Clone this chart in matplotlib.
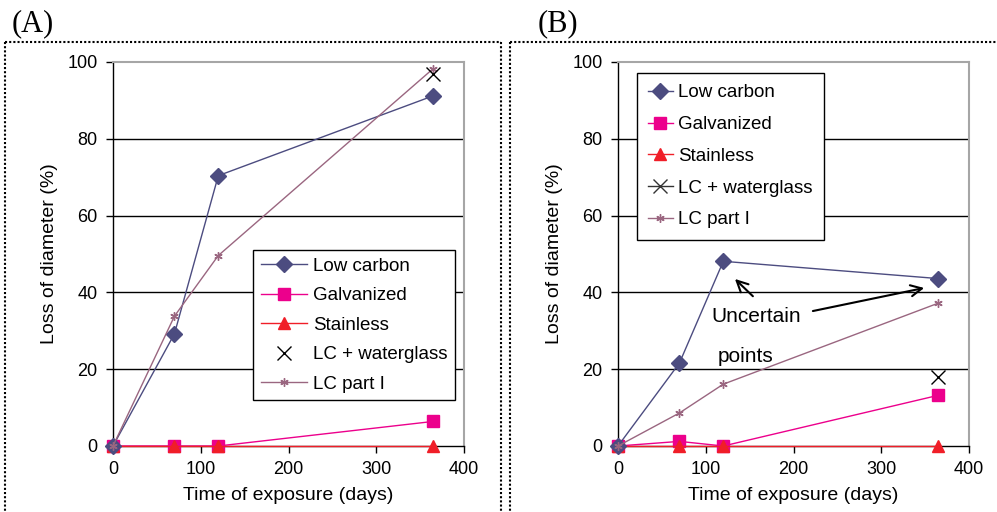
import matplotlib
matplotlib.use("Agg")
import matplotlib.pyplot as plt
from matplotlib.lines import Line2D

# ── Data ─────────────────────────────────────────────────────
DAYS = [0, 70, 120, 365]

A_LOW_CARBON = [0, 29.2, 70.4, 91.2]
A_GALVANIZED = [0, 0, 0, 6.4]
A_STAINLESS  = [0, 0, 0, 0]
A_WATERGLASS_X = [365]
A_WATERGLASS   = [97.0]
A_LC_PART_I  = [0, 33.8, 49.6, 98.3]

B_LOW_CARBON = [0, 21.6, 48.1, 43.6]
B_GALVANIZED = [0, 1.2, 0, 13.2]
B_STAINLESS  = [0, 0, 0, 0]
B_WATERGLASS_X = [365]
B_WATERGLASS   = [18.0]
B_LC_PART_I  = [0, 8.6, 16.1, 37.2]

LABELS = ["Low carbon", "Galvanized", "Stainless", "LC + waterglass", "LC part I"]

# ── Style ────────────────────────────────────────────────────
plt.rcParams.update({
    "font.family": ["Liberation Sans", "DejaVu Sans"],
    "font.size": 13,
})

C_LOW = "#4c4c80"
C_GALV = "#ec008c"
C_STAIN = "#f01e28"
C_PART = "#9a6680"
STAR = (6, 2, 0)

W, H = 997, 512
fig = plt.figure(figsize=(W / 100, H / 100), dpi=100)


def fx(px):
    return px / W


def fy(py):
    return 1 - py / H


def make_axes(left_px):
    ax = fig.add_axes([fx(left_px), fy(446), fx(351), 384 / H])
    ax.set_xlim(0, 400)
    ax.set_ylim(0, 100)
    ax.set_xticks([0, 100, 200, 300, 400])
    ax.set_yticks([0, 20, 40, 60, 80, 100])
    ax.tick_params(direction="out", length=5, width=1, labelsize=13, pad=6)
    for s in ("top", "right"):
        ax.spines[s].set_color("#a6a6a6")
        ax.spines[s].set_linewidth(1.5)
    for s in ("left", "bottom"):
        ax.spines[s].set_color("black")
        ax.spines[s].set_linewidth(1.0)
    for v in (20, 40, 60, 80):
        ax.axhline(v, color="black", linewidth=1.0, zorder=0)
    ax.set_xlabel("Time of exposure (days)", fontsize=14, labelpad=6)
    ax.set_ylabel("Loss of diameter (%)", fontsize=14, labelpad=7)
    return ax


def draw(ax, low, galv, stain, wg_x, wg, part):
    ax.plot(DAYS, stain, color=C_STAIN, marker="^", markersize=9, linewidth=1,
            clip_on=False, zorder=4)
    ax.plot(DAYS, galv, color=C_GALV, marker="s", markersize=9, linewidth=1,
            clip_on=False, zorder=3)
    ax.plot(DAYS, low, color=C_LOW, marker="D", markersize=8, linewidth=1,
            clip_on=False, zorder=5)
    ax.plot(DAYS, part, color=C_PART, marker=STAR, markersize=6, linewidth=1,
            markeredgewidth=1, clip_on=False, zorder=6)
    ax.plot(wg_x, wg, linestyle="none", color="black", marker="x",
            markersize=10, markeredgewidth=1, clip_on=False, zorder=7)


def legend_handles(wg_line):
    return [
        Line2D([], [], color=C_LOW, marker="D", markersize=8, linewidth=1),
        Line2D([], [], color=C_GALV, marker="s", markersize=9, linewidth=1),
        Line2D([], [], color=C_STAIN, marker="^", markersize=9, linewidth=1),
        Line2D([], [], color="#333333" if wg_line else "black", marker="x",
               markersize=10, linewidth=1 if wg_line else 0,
               linestyle="-" if wg_line else "none"),
        Line2D([], [], color=C_PART, marker=STAR, markersize=6, linewidth=1),
    ]


# ── Panel A ──────────────────────────────────────────────────
axA = make_axes(113)
draw(axA, A_LOW_CARBON, A_GALVANIZED, A_STAINLESS, A_WATERGLASS_X,
     A_WATERGLASS, A_LC_PART_I)
legA = axA.legend(legend_handles(False), LABELS, loc="upper left",
                  bbox_to_anchor=((253 - 113) / 351, (446 - 250) / 384),
                  borderaxespad=0, fancybox=False, framealpha=1,
                  edgecolor="black", handlelength=2.5, handletextpad=0.3,
                  labelspacing=0.66, borderpad=0.4, fontsize=13.5)
legA.get_frame().set_linewidth(1.0)

# ── Panel B ──────────────────────────────────────────────────
axB = make_axes(618)
draw(axB, B_LOW_CARBON, B_GALVANIZED, B_STAINLESS, B_WATERGLASS_X,
     B_WATERGLASS, B_LC_PART_I)
legB = axB.legend(legend_handles(True), LABELS, loc="upper left",
                  bbox_to_anchor=((637 - 618) / 351, (446 - 73) / 384),
                  borderaxespad=0, fancybox=False, framealpha=1,
                  edgecolor="black", handlelength=1.3, handletextpad=0.3,
                  labelspacing=0.78, borderpad=0.6, fontsize=13.5)
legB.get_frame().set_linewidth(1.0)

axB.text(158, 33.7, "Uncertain", ha="center", va="center", fontsize=15)
axB.text(145, 23.3, "points", ha="center", va="center", fontsize=15)
arrow = dict(arrowstyle="->", color="black", linewidth=1.5, mutation_scale=20)
axB.annotate("", xy=(131, 44), xytext=(156, 38.5), arrowprops=arrow)
axB.annotate("", xy=(352, 41.3), xytext=(219, 35), arrowprops=arrow)

# ── Panel labels and dotted frames ───────────────────────────
fig.text(fx(12), fy(24), "(A)", fontsize=22, family=["Liberation Serif"],
         va="center", ha="left")
fig.text(fx(538), fy(24), "(B)", fontsize=22, family=["Liberation Serif"],
         va="center", ha="left")

dot = dict(color="black", linestyle=(0, (1, 1)), linewidth=1.5,
           transform=fig.transFigure)
fig.add_artist(Line2D([fx(5), fx(501)], [fy(42), fy(42)], **dot))
fig.add_artist(Line2D([fx(5), fx(5)], [fy(42), fy(512)], **dot))
fig.add_artist(Line2D([fx(501), fx(501)], [fy(42), fy(512)], **dot))
fig.add_artist(Line2D([fx(510), fx(997)], [fy(42), fy(42)], **dot))
fig.add_artist(Line2D([fx(510), fx(510)], [fy(42), fy(512)], **dot))

fig.savefig("out.png", dpi=100)
